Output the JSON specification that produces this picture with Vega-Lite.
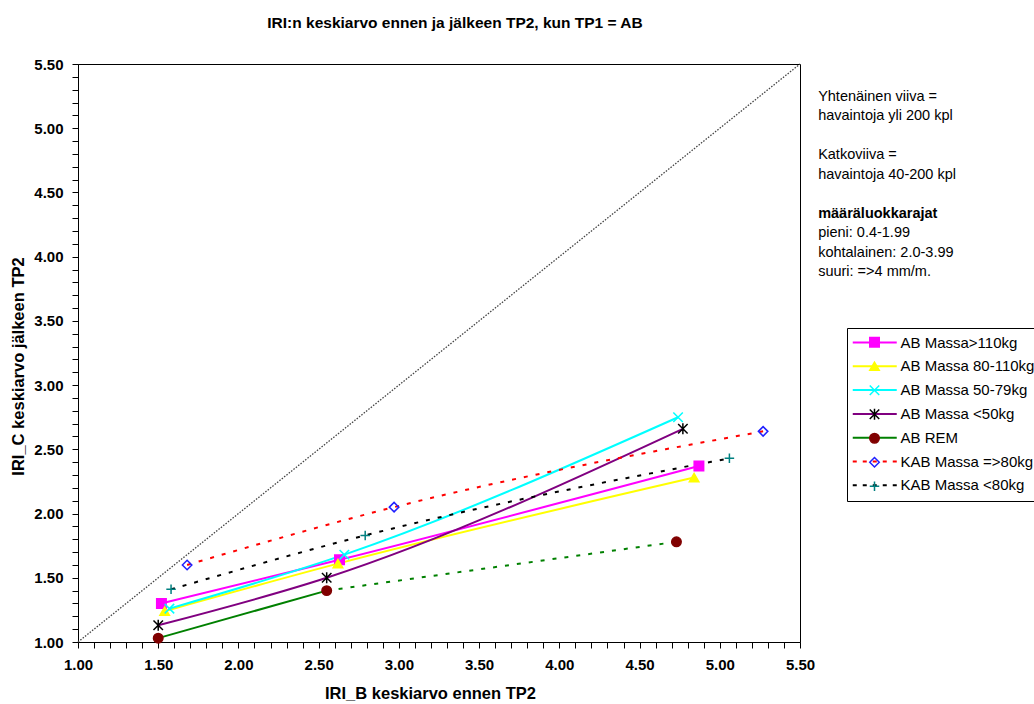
{
  "$schema": "https://vega.github.io/schema/vega-lite/v6.json",
  "width": 722,
  "height": 578,
  "autosize": "none",
  "padding": {"left": 78, "top": 64, "right": 234, "bottom": 62},
  "background": "white",
  "config": {
    "view": {"stroke": "black", "strokeWidth": 1},
    "font": "Liberation Sans"
  },
  "title": {
    "text": "IRI:n keskiarvo ennen ja jälkeen TP2, kun TP1 = AB",
    "font": "Liberation Sans",
    "fontSize": 15.5,
    "fontWeight": "bold",
    "color": "black",
    "anchor": "middle",
    "frame": "group",
    "dx": 16,
    "offset": 26
  },
  "datasets": {
    "pts": [
      {"series": "AB Massa>110kg", "x": 1.52, "y": 1.30, "n": "yli 200"},
      {"series": "AB Massa>110kg", "x": 2.63, "y": 1.64, "n": "yli 200"},
      {"series": "AB Massa>110kg", "x": 4.87, "y": 2.37, "n": "yli 200"},
      {"series": "AB Massa 80-110kg", "x": 1.54, "y": 1.24, "n": "yli 200"},
      {"series": "AB Massa 80-110kg", "x": 2.62, "y": 1.61, "n": "yli 200"},
      {"series": "AB Massa 80-110kg", "x": 4.84, "y": 2.28, "n": "yli 200"},
      {"series": "AB Massa 50-79kg", "x": 1.57, "y": 1.26, "n": "yli 200"},
      {"series": "AB Massa 50-79kg", "x": 2.66, "y": 1.68, "n": "yli 200"},
      {"series": "AB Massa 50-79kg", "x": 4.74, "y": 2.75, "n": "yli 200"},
      {"series": "AB Massa <50kg", "x": 1.50, "y": 1.13, "n": "yli 200"},
      {"series": "AB Massa <50kg", "x": 2.55, "y": 1.50, "n": "yli 200"},
      {"series": "AB Massa <50kg", "x": 4.77, "y": 2.66, "n": "yli 200"},
      {"series": "AB REM", "x": 1.50, "y": 1.03, "n": "yli 200"},
      {"series": "AB REM", "x": 2.55, "y": 1.40, "n": "yli 200"},
      {"series": "AB REM", "x": 4.73, "y": 1.78, "n": "40-200"},
      {"series": "KAB Massa =>80kg", "x": 1.68, "y": 1.60, "n": "40-200"},
      {"series": "KAB Massa =>80kg", "x": 2.97, "y": 2.05, "n": "40-200"},
      {"series": "KAB Massa =>80kg", "x": 5.27, "y": 2.64, "n": "40-200"},
      {"series": "KAB Massa <80kg", "x": 1.58, "y": 1.41, "n": "40-200"},
      {"series": "KAB Massa <80kg", "x": 2.79, "y": 1.83, "n": "40-200"},
      {"series": "KAB Massa <80kg", "x": 5.06, "y": 2.43, "n": "40-200"}
    ],
    "diag": [{"x": 1, "y": 1}, {"x": 5.5, "y": 5.5}]
  },
  "layer": [
    {
      "data": {"name": "diag"},
      "mark": {"type": "line", "stroke": "#444444", "strokeWidth": 1.3, "strokeDash": [1.5, 1.5]},
      "encoding": {
        "x": {
          "field": "x", "type": "quantitative",
          "scale": {"domain": [1, 5.5], "nice": false, "zero": false},
          "axis": {
            "orient": "bottom",
            "values": [1.0,1.1,1.2,1.3,1.4,1.5,1.6,1.7,1.8,1.9,2.0,2.1,2.2,2.3,2.4,2.5,2.6,2.7,2.8,2.9,3.0,3.1,3.2,3.3,3.4,3.5,3.6,3.7,3.8,3.9,4.0,4.1,4.2,4.3,4.4,4.5,4.6,4.7,4.8,4.9,5.0,5.1,5.2,5.3,5.4,5.5],
            "tickCount": 200,
            "format": ".2f",
            "labelExpr": "abs(datum.value*2 - round(datum.value*2)) < 0.01 ? datum.label : ''",
            "grid": false,
            "tickSize": 6,
            "tickColor": "black",
            "domainColor": "black",
            "labelPadding": 9,
            "labelFont": "Liberation Sans",
            "labelFontSize": 15,
            "labelFontWeight": "bold",
            "labelColor": "black",
            "labelOverlap": false,
            "labelFlush": false,
            "labelBound": false,
            "title": "IRI_B keskiarvo ennen TP2",
            "titleFont": "Liberation Sans",
            "titleFontSize": 16.5,
            "titleFontWeight": "bold",
            "titleColor": "black",
            "titleX": 352,
            "titleY": 51,
            "titleAlign": "center",
            "titleBaseline": "middle",
            "encode": {"ticks": {"update": {
              "y": {"value": -2},
              "y2": {"signal": "abs(datum.value*2 - round(datum.value*2)) < 0.01 ? 6 : 4"}
            }}}
          }
        },
        "y": {
          "field": "y", "type": "quantitative",
          "scale": {"domain": [1, 5.5], "nice": false, "zero": false},
          "axis": {
            "orient": "left",
            "values": [1.0,1.1,1.2,1.3,1.4,1.5,1.6,1.7,1.8,1.9,2.0,2.1,2.2,2.3,2.4,2.5,2.6,2.7,2.8,2.9,3.0,3.1,3.2,3.3,3.4,3.5,3.6,3.7,3.8,3.9,4.0,4.1,4.2,4.3,4.4,4.5,4.6,4.7,4.8,4.9,5.0,5.1,5.2,5.3,5.4,5.5],
            "tickCount": 200,
            "format": ".2f",
            "labelExpr": "abs(datum.value*2 - round(datum.value*2)) < 0.01 ? datum.label : ''",
            "grid": false,
            "tickSize": 6,
            "tickColor": "black",
            "domainColor": "black",
            "labelPadding": 9,
            "labelFont": "Liberation Sans",
            "labelFontSize": 15,
            "labelFontWeight": "bold",
            "labelColor": "black",
            "labelOverlap": false,
            "labelFlush": false,
            "labelBound": false,
            "title": "IRI_C keskiarvo jälkeen TP2",
            "titleFont": "Liberation Sans",
            "titleFontSize": 16.5,
            "titleFontWeight": "bold",
            "titleColor": "black",
            "titleX": -60,
            "titleY": 302,
            "titleAngle": -90,
            "titleAlign": "center",
            "titleBaseline": "middle",
            "encode": {"ticks": {"update": {
              "x": {"value": 2},
              "x2": {"signal": "abs(datum.value*2 - round(datum.value*2)) < 0.01 ? -6 : -4"}
            }}}
          }
        }
      }
    },
    {
      "data": {"name": "pts"},
      "transform": [{"filter": "datum.n === 'yli 200'"}],
      "mark": {"type": "line", "strokeWidth": 2, "interpolate": "monotone"},
      "encoding": {
        "x": {"field": "x", "type": "quantitative", "axis": null},
        "y": {"field": "y", "type": "quantitative", "axis": null},
        "stroke": {
          "field": "series", "type": "nominal",
          "scale": {
            "domain": ["AB Massa>110kg", "AB Massa 80-110kg", "AB Massa 50-79kg", "AB Massa <50kg", "AB REM", "KAB Massa =>80kg", "KAB Massa <80kg"],
            "range": ["#FF00FF", "#FFFF00", "#00FFFF", "#800080", "#008000", "#FF0000", "#000000"]
          },
          "legend": {
            "orient": "none",
            "legendX": 769,
            "legendY": 264,
            "title": null,
            "padding": 7,
            "rowPadding": 7.8,
            "symbolOffset": 13.25,
            "labelOffset": 18.25,
            "labelFont": "Liberation Sans",
            "labelFontSize": 15,
            "labelColor": "black",
            "labelLimit": 400,
            "symbolType": "M-4.4,0L4.4,0",
            "symbolSize": 100,
            "symbolStrokeWidth": 2,
            "strokeColor": "black",
            "fillColor": "white",
            "cornerRadius": 0,
            "encode": {"symbols": {"update": {"strokeDash": {"signal": "indexof(datum.value, 'KAB') === 0 ? [4, 6] : [1, 0]"}}}}
          }
        }
      }
    },
    {
      "data": {"name": "pts"},
      "transform": [
        {"window": [{"op": "lead", "field": "n", "as": "n_next"}], "groupby": ["series"], "sort": [{"field": "x", "order": "ascending"}]},
        {"filter": "datum.n === '40-200' || datum.n_next === '40-200'"}
      ],
      "mark": {"type": "line", "strokeWidth": 2, "strokeDash": [4, 8], "interpolate": "monotone"},
      "encoding": {
        "x": {"field": "x", "type": "quantitative", "axis": null},
        "y": {"field": "y", "type": "quantitative", "axis": null},
        "stroke": {
          "field": "series", "type": "nominal",
          "scale": {
            "domain": ["AB Massa>110kg", "AB Massa 80-110kg", "AB Massa 50-79kg", "AB Massa <50kg", "AB REM", "KAB Massa =>80kg", "KAB Massa <80kg"],
            "range": ["#FF00FF", "#FFFF00", "#00FFFF", "#800080", "#008000", "#FF0000", "#000000"]
          },
          "legend": null
        }
      }
    },
    {
      "data": {"name": "pts"},
      "mark": {"type": "point", "size": 90, "strokeWidth": 1.5, "opacity": 1},
      "encoding": {
        "x": {"field": "x", "type": "quantitative", "axis": null},
        "y": {"field": "y", "type": "quantitative", "axis": null},
        "shape": {
          "field": "series", "type": "nominal",
          "scale": {
            "domain": ["AB Massa>110kg", "AB Massa 80-110kg", "AB Massa 50-79kg", "AB Massa <50kg", "AB REM", "KAB Massa =>80kg", "KAB Massa <80kg"],
            "range": ["square", "triangle-up", "M-1,-1L1,1M-1,1L1,-1", "M-1,-1L1,1M-1,1L1,-1M0,-1.15L0,1.15", "circle", "diamond", "M-1,0L1,0M0,-1L0,1"]
          },
          "legend": {
            "orient": "none", "legendX": 769, "legendY": 259.25, "title": null,
            "padding": 7, "rowPadding": -0.2, "symbolOffset": 8.5, "labelOffset": 0,
            "labelFont": "Liberation Sans", "labelFontSize": 24, "labelOpacity": 0, "labelLimit": 400,
            "labelExpr": "' '",
            "symbolSize": 90, "symbolStrokeWidth": 1.5, "symbolOpacity": 1
          }
        },
        "fill": {
          "field": "series", "type": "nominal",
          "scale": {
            "domain": ["AB Massa>110kg", "AB Massa 80-110kg", "AB Massa 50-79kg", "AB Massa <50kg", "AB REM", "KAB Massa =>80kg", "KAB Massa <80kg"],
            "range": ["#FF00FF", "#FFFF00", "transparent", "transparent", "#800000", "transparent", "transparent"]
          },
          "legend": {
            "orient": "none", "legendX": 769, "legendY": 259.25, "title": null,
            "padding": 7, "rowPadding": -0.2, "symbolOffset": 8.5, "labelOffset": 0,
            "labelFont": "Liberation Sans", "labelFontSize": 24, "labelOpacity": 0, "labelLimit": 400,
            "labelExpr": "' '",
            "symbolSize": 90, "symbolStrokeWidth": 1.5, "symbolOpacity": 1
          }
        },
        "stroke": {
          "field": "series", "type": "nominal",
          "scale": {
            "domain": ["AB Massa>110kg", "AB Massa 80-110kg", "AB Massa 50-79kg", "AB Massa <50kg", "AB REM", "KAB Massa =>80kg", "KAB Massa <80kg"],
            "range": ["#FF00FF", "#FFFF00", "#00FFFF", "#000000", "#800000", "#2020FF", "#008080"]
          },
          "legend": {
            "orient": "none", "legendX": 769, "legendY": 259.25, "title": null,
            "padding": 7, "rowPadding": -0.2, "symbolOffset": 8.5, "labelOffset": 0,
            "labelFont": "Liberation Sans", "labelFontSize": 24, "labelOpacity": 0, "labelLimit": 400,
            "labelExpr": "' '",
            "symbolSize": 90, "symbolStrokeWidth": 1.5, "symbolOpacity": 1
          }
        }
      }
    },
    {
      "data": {"values": [{}]},
      "mark": {
        "type": "text", "align": "left", "baseline": "alphabetic",
        "font": "Liberation Sans", "fontSize": 14.5, "lineHeight": 19.5, "color": "black",
        "text": ["Yhtenäinen viiva =", "havaintoja yli 200 kpl"]
      },
      "encoding": {
        "x": {"datum": 5.613, "type": "quantitative", "axis": null},
        "y": {"datum": 5.213, "type": "quantitative", "axis": null}
      }
    },
    {
      "data": {"values": [{}]},
      "mark": {
        "type": "text", "align": "left", "baseline": "alphabetic",
        "font": "Liberation Sans", "fontSize": 14.5, "lineHeight": 19.5, "color": "black",
        "text": ["Katkoviiva =", "havaintoja 40-200 kpl"]
      },
      "encoding": {
        "x": {"datum": 5.613, "type": "quantitative", "axis": null},
        "y": {"datum": 4.758, "type": "quantitative", "axis": null}
      }
    },
    {
      "data": {"values": [{}]},
      "mark": {
        "type": "text", "align": "left", "baseline": "alphabetic",
        "font": "Liberation Sans", "fontSize": 14.5, "fontWeight": "bold", "color": "black",
        "text": "määräluokkarajat"
      },
      "encoding": {
        "x": {"datum": 5.613, "type": "quantitative", "axis": null},
        "y": {"datum": 4.302, "type": "quantitative", "axis": null}
      }
    },
    {
      "data": {"values": [{}]},
      "mark": {
        "type": "text", "align": "left", "baseline": "alphabetic",
        "font": "Liberation Sans", "fontSize": 14.5, "lineHeight": 19.5, "color": "black",
        "text": ["pieni: 0.4-1.99", "kohtalainen: 2.0-3.99", "suuri: =>4 mm/m."]
      },
      "encoding": {
        "x": {"datum": 5.613, "type": "quantitative", "axis": null},
        "y": {"datum": 4.150, "type": "quantitative", "axis": null}
      }
    }
  ],
  "resolve": {
    "scale": {"stroke": "independent", "fill": "independent", "shape": "independent"},
    "axis": {"x": "independent", "y": "independent"}
  }
}
